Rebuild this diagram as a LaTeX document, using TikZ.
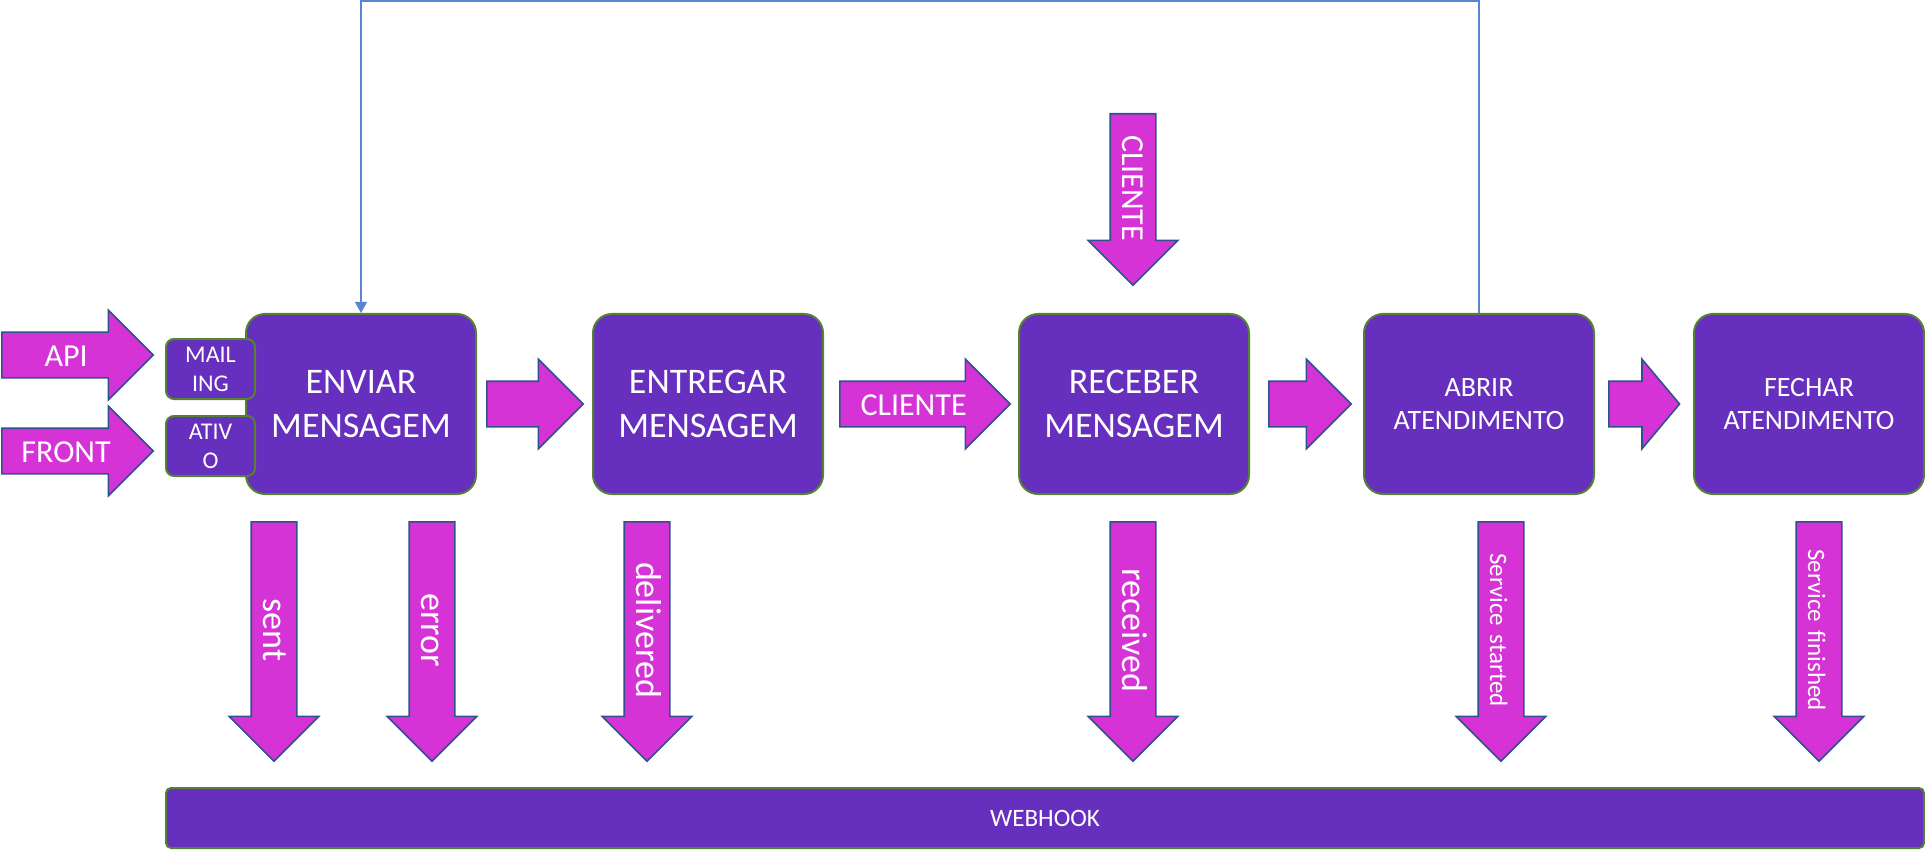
\documentclass[tikz,border=0pt]{standalone}
\usepackage{fontspec}
\setmainfont{Carlito}
\usetikzlibrary{positioning}
\usetikzlibrary{shapes.arrows}
\usetikzlibrary{arrows.meta}
\definecolor{boxpurple}{RGB}{102,47,189}
\definecolor{boxgreen}{RGB}{84,130,53}
\definecolor{arrowpink}{RGB}{214,51,214}
\definecolor{arrowblue}{RGB}{47,82,143}
\definecolor{linkblue}{RGB}{91,133,208}
\tikzset{stage/.style={ % Sets the properties for each stage box
      rectangle, rounded corners=19pt,
      fill=boxpurple, draw=boxgreen, line width=2pt,
      text=white, align=center,
      minimum width=230pt, minimum height=180pt, inner sep=0pt},
      tag/.style={ % Small boxes stuck on ENVIAR
      stage, rounded corners=8pt,
      minimum width=89pt, minimum height=60pt,
      font=\fontsize{24}{29}\selectfont},
      bigfont/.style={font=\fontsize{36}{44}\selectfont},
      midfont/.style={font=\fontsize{32}{38}\selectfont},
      smallfont/.style={font=\fontsize{25}{30}\selectfont},
      blockarrow/.style={ % Block arrow, #1 is its length less 26pt
      single arrow, fill=arrowpink, draw=arrowblue, line width=1.6pt,
      text=white, inner sep=0pt, align=center,
      text width=#1, text height=33pt, text depth=11pt, % shaft is 44pt wide
      single arrow head extend=22pt, single arrow tip angle=90,
      minimum width=88pt},
      downarrow/.style={ % Block arrows going down to the webhook
      blockarrow=215pt, rotate=-90, anchor=tail},
      backline/.style={draw=linkblue, line width=1.5pt,
      -{Triangle[width=12pt,length=11pt]}}}

\begin{document}
\begin{tikzpicture}[x=1pt, y=-1pt]
      \useasboundingbox (0,0) rectangle (1925,850);
      % stages
      \node[stage, bigfont] (enviar) at (361,404) {ENVIAR\\MENSAGEM};
      \node[stage, bigfont, right=115pt of enviar] (entregar) {ENTREGAR\\MENSAGEM};
      \node[stage, bigfont, right=194pt of entregar] (receber) {RECEBER\\MENSAGEM};
      \node[stage, font=\fontsize{28}{33}\selectfont, right=113pt of receber] (abrir) {ABRIR\\ATENDIMENTO};
      \node[stage, font=\fontsize{28}{33}\selectfont, right=98pt of abrir] (fechar) {FECHAR\\ATENDIMENTO};
      \node[tag] (mailing) at (210.5,369) {MAIL\\ING};
      \node[tag, below=15pt of mailing] (ativo) {ATIV\\O};
      \node[stage, smallfont, rounded corners=5pt, minimum width=1758pt, minimum height=60pt] (webhook) at (1045,818) {WEBHOOK};
      % inputs
      \node[blockarrow=127pt, midfont, anchor=tail] (api) at (1,355) {API};
      \node[blockarrow=127pt, midfont, anchor=tail] (front) at (1,451) {FRONT};
      \node[blockarrow=147pt, rotate=-90, anchor=tail, midfont] (clientein) at (1133,113) {CLIENTE};
      % flow between stages
      \node[blockarrow=72pt, right=9pt of enviar] (step1) {};
      \node[blockarrow=146pt, midfont, right=15pt of entregar] (cliente) {CLIENTE};
      \node[blockarrow=58pt, right=18pt of receber] (step3) {};
      \node[blockarrow=50pt, single arrow tip angle=100, right=13pt of abrir] (step4) {};
      % webhook events
      \node[downarrow, bigfont] (sent) at (274,521) {sent};
      \node[downarrow, bigfont] (error) at (432,521) {error};
      \node[downarrow, bigfont] (delivered) at (647,521) {delivered};
      \node[downarrow, bigfont] (received) at (1133,521) {received};
      \node[downarrow, smallfont] (started) at (1501,521) {Service started};
      \node[downarrow, smallfont] (finished) at (1819,521) {Service finished};
      % back to the start
      \coordinate (roof) at (0,1);
      \draw[backline] (abrir.north) |- (roof -| enviar.north) -- (enviar.north);
\end{tikzpicture}
\end{document}
